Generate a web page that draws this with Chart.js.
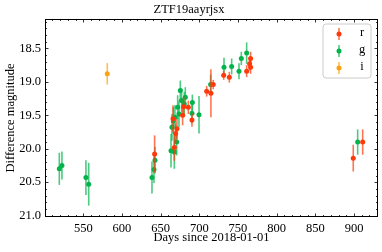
<!DOCTYPE html>
<html><head><meta charset="utf-8">
<script src="https://cdn.jsdelivr.net/npm/chart.js@4/dist/chart.umd.min.js"></script>
<style>html,body{margin:0;padding:0;background:#fff}#wrap{width:382px;height:252px}</style>
</head><body><div id="wrap"><canvas id="c" width="382" height="252"></canvas></div>
<script>
const titleText = "ZTF19aayrjsx";
const xLabel = "Days since 2018-01-01";
const yLabel = "Difference magnitude";
const xTicks = [550, 600, 650, 700, 750, 800, 850, 900];
const yTicks = [18.5, 19.0, 19.5, 20.0, 20.5, 21.0];

const rDays = [642.2, 666, 667.7, 669.4, 671.1, 678.4, 679.7, 685.8, 690.5, 709.5, 715, 718, 731.5, 738.8, 761.2, 765, 766.3, 766.3, 899, 911.2];
const rMag  = [20.08, 19.55, 19.98, 19.77, 19.70, 19.50, 19.37, 19.38, 19.57, 19.14, 19.17, 19.04, 18.90, 18.93, 18.84, 18.73, 18.65, 18.78, 20.14, 19.90];
const rErr  = [0.28, 0.20, 0.20, 0.15, 0.15, 0.15, 0.15, 0.10, 0.10, 0.08, 0.36, 0.07, 0.07, 0.08, 0.09, 0.10, 0.10, 0.10, 0.20, 0.19];

const gDays = [519, 522.4, 553.4, 557, 638.8, 641.4, 642.7, 663.4, 664.6, 666.4, 667.7, 668.5, 670.7, 672, 673.7, 675.4, 677.1, 680.6, 681.9, 690.5, 691, 699.6, 714.6, 731.9, 741.8, 751.3, 754.3, 761.2, 904.7];
const gMag  = [20.30, 20.25, 20.43, 20.53, 20.43, 20.31, 20.17, 20.03, 19.68, 19.58, 20.05, 19.53, 19.90, 19.38, 19.48, 19.13, 19.28, 19.33, 19.23, 19.47, 19.31, 19.49, 19.04, 18.78, 18.77, 18.84, 18.65, 18.57, 19.90];
const gErr  = [0.24, 0.21, 0.26, 0.32, 0.24, 0.20, 0.20, 0.25, 0.20, 0.20, 0.25, 0.18, 0.20, 0.18, 0.20, 0.15, 0.18, 0.18, 0.15, 0.15, 0.12, 0.28, 0.15, 0.14, 0.12, 0.12, 0.10, 0.16, 0.19];

const iDays = [581];
const iMag  = [18.88];
const iErr  = [0.16];

const FONT = "'Liberation Serif', 'DejaVu Serif', serif";
const colR = '#ff3a0a', colG = '#00b34a', colI = '#ffa010';
const barR = 'rgba(255,58,10,0.7)', barG = 'rgba(0,179,74,0.7)', barI = 'rgba(255,160,16,0.7)';

function pts(d, m, e) { return d.map((x, k) => ({x: x, y: m[k], e: e[k]})); }

const errPlugin = {
  id: 'errbars',
  beforeDatasetDraw(chart, args) {
    const ds = chart.data.datasets[args.index];
    const xs = chart.scales.x, ys = chart.scales.y, ctx = chart.ctx;
    const a = chart.chartArea;
    ctx.save();
    ctx.beginPath(); ctx.rect(a.left, a.top, a.right - a.left, a.bottom - a.top); ctx.clip();
    ctx.strokeStyle = ds.barColor; ctx.lineWidth = 1.6;
    ds.data.forEach(p => {
      const px = xs.getPixelForValue(p.x);
      ctx.beginPath();
      ctx.moveTo(px, ys.getPixelForValue(p.y - p.e));
      ctx.lineTo(px, ys.getPixelForValue(p.y + p.e));
      ctx.stroke();
    });
    ctx.restore();
  }
};

const framePlugin = {
  id: 'frame',
  afterDraw(chart) {
    const ctx = chart.ctx, a = chart.chartArea, xs = chart.scales.x, ys = chart.scales.y;
    ctx.save();
    ctx.strokeStyle = '#000'; ctx.lineWidth = 1;
    ctx.strokeRect(a.left + 0.5, a.top + 0.5, a.right - a.left - 1, a.bottom - a.top - 1);
    ctx.lineWidth = 0.8;
    for (let v = 510; v <= 930; v += 10) {
      const px = Math.round(xs.getPixelForValue(v)) + 0.5;
      if (px < a.left || px > a.right) continue;
      const L = (v % 50 === 0) ? 3.5 : 2;
      ctx.beginPath();
      ctx.moveTo(px, a.bottom); ctx.lineTo(px, a.bottom - L);
      ctx.moveTo(px, a.top); ctx.lineTo(px, a.top + L);
      ctx.stroke();
    }
    for (let k = 181; k <= 210; k++) {
      const v = k / 10;
      const py = Math.round(ys.getPixelForValue(v)) + 0.5;
      if (py < a.top || py > a.bottom) continue;
      const L = (k % 5 === 0) ? 3.5 : 2;
      ctx.beginPath();
      ctx.moveTo(a.left, py); ctx.lineTo(a.left + L, py);
      ctx.moveTo(a.right, py); ctx.lineTo(a.right - L, py);
      ctx.stroke();
    }
    const bx = 323, by = 24, bw = 48, bh = 54, r = 3;
    ctx.fillStyle = 'rgba(255,255,255,0.85)';
    ctx.strokeStyle = '#cccccc'; ctx.lineWidth = 1;
    ctx.beginPath();
    ctx.moveTo(bx + r, by); ctx.lineTo(bx + bw - r, by); ctx.arcTo(bx + bw, by, bx + bw, by + r, r);
    ctx.lineTo(bx + bw, by + bh - r); ctx.arcTo(bx + bw, by + bh, bx + bw - r, by + bh, r);
    ctx.lineTo(bx + r, by + bh); ctx.arcTo(bx, by + bh, bx, by + bh - r, r);
    ctx.lineTo(bx, by + r); ctx.arcTo(bx, by, bx + r, by, r);
    ctx.closePath(); ctx.fill(); ctx.stroke();
    ctx.font = "12.5px " + FONT; ctx.textAlign = 'center'; ctx.textBaseline = 'middle';
    chart.data.datasets.forEach((ds, k) => {
      const y = 34 + k * 17, x = 339;
      ctx.strokeStyle = ds.barColor; ctx.lineWidth = 1.6;
      ctx.beginPath(); ctx.moveTo(x, y - 6); ctx.lineTo(x, y + 6); ctx.stroke();
      ctx.fillStyle = ds.backgroundColor;
      ctx.beginPath(); ctx.arc(x, y, 2.5, 0, Math.PI * 2); ctx.fill();
      ctx.fillStyle = '#000';
      ctx.fillText(ds.label, 362, y - 1);
    });
    ctx.restore();
  }
};

new Chart(document.getElementById('c'), {
  type: 'scatter',
  data: {
    datasets: [
      {label: 'r', data: pts(rDays, rMag, rErr), backgroundColor: colR, borderColor: colR, barColor: barR, pointRadius: 2.5, borderWidth: 0},
      {label: 'g', data: pts(gDays, gMag, gErr), backgroundColor: colG, borderColor: colG, barColor: barG, pointRadius: 2.5, borderWidth: 0},
      {label: 'i', data: pts(iDays, iMag, iErr), backgroundColor: colI, borderColor: colI, barColor: barI, pointRadius: 2.5, borderWidth: 0}
    ]
  },
  options: {
    responsive: false, animation: false, devicePixelRatio: 1,
    layout: {padding: {left: 0, right: 4, top: 0, bottom: 0}},
    plugins: {
      legend: {display: false}, tooltip: {enabled: false},
      title: {display: true, text: titleText, color: '#000', font: {family: FONT, size: 12.5, weight: 'normal'}, padding: {top: 2, bottom: 2}}
    },
    scales: {
      x: {
        type: 'linear', min: 500.5, max: 931,
        afterBuildTicks: s => { s.ticks = xTicks.map(v => ({value: v})); },
        afterFit: s => { s.height = 35; },
        grid: {display: false, drawTicks: false},
        border: {display: false},
        ticks: {color: '#000', font: {family: FONT, size: 12.5}, padding: 4, maxRotation: 0, autoSkip: false, callback: v => String(v)},
        title: {display: true, text: xLabel, color: '#000', font: {family: FONT, size: 12.5}, padding: {top: 0, bottom: 7}}
      },
      y: {
        type: 'linear', reverse: true, min: 18.06, max: 21.02,
        afterBuildTicks: s => { s.ticks = yTicks.map(v => ({value: v})); },
        afterFit: s => { s.width = 45; },
        grid: {display: false, drawTicks: false},
        border: {display: false},
        ticks: {color: '#000', font: {family: FONT, size: 12.5}, padding: 4, autoSkip: false, callback: v => Number(v).toFixed(1)},
        title: {display: true, text: yLabel, color: '#000', font: {family: FONT, size: 12.5}, padding: {top: 3.5, bottom: 0}}
      }
    }
  },
  plugins: [errPlugin, framePlugin]
});
</script></body></html>
